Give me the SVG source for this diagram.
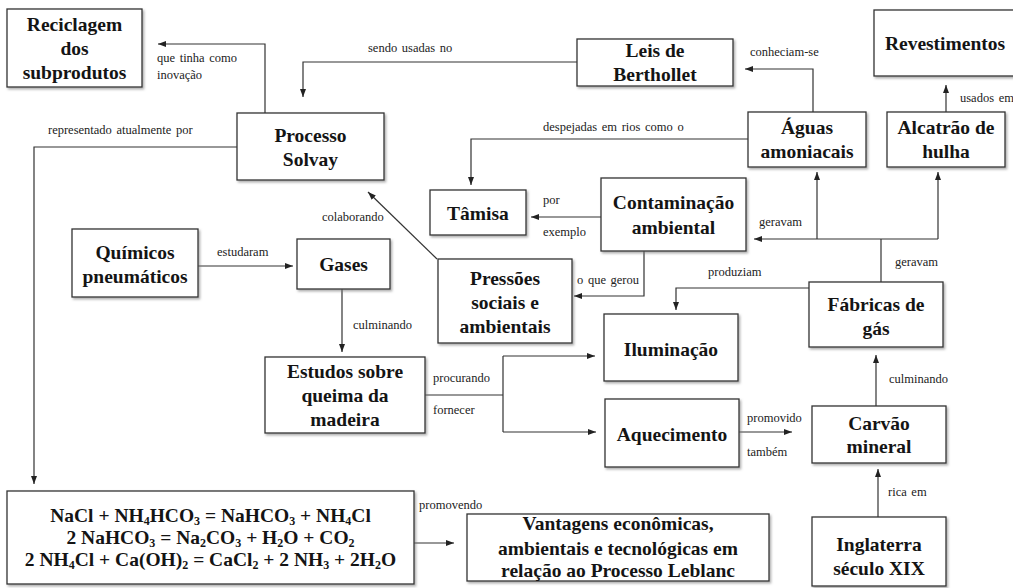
<svg xmlns="http://www.w3.org/2000/svg" width="1013" height="588" viewBox="0 0 1013 588" font-family="Liberation Serif, Times New Roman, serif">
<style>
.box{fill:#fff;stroke:#333;stroke-width:1.3;filter:url(#sh)}
.n{font-weight:bold;font-size:19.5px;fill:#141414;text-anchor:middle}
.l{font-size:12.5px;fill:#222;word-spacing:1.5px}
.c{fill:none;stroke:#333;stroke-width:1.2}
.a{marker-end:url(#ah)}
.s{font-size:12px}
</style>
<defs>
<filter id="sh" x="-5%" y="-5%" width="115%" height="120%">
<feDropShadow dx="1.5" dy="1.8" stdDeviation="1" flood-color="#777" flood-opacity="0.6"/>
</filter>
<marker id="ah" markerUnits="userSpaceOnUse" markerWidth="9" markerHeight="7" refX="8" refY="3" orient="auto">
<path d="M0,0 L8,3 L0,6 z" fill="#222"/>
</marker>
</defs>
<rect width="1013" height="588" fill="#fff"/>

<g id="connectors">
<path class="c a" d="M265,113 V44 H158"/>
<path class="c a" d="M577,62 H303 V97"/>
<path class="c a" d="M813,112 V69 H745"/>
<path class="c a" d="M946,112 V85"/>
<path class="c a" d="M748,139 H471 V185"/>
<path class="c a" d="M601,217 H531"/>
<path class="c a" d="M644,251 V296 H574"/>
<path class="c a" d="M437,259 L368,192"/>
<path class="c a" d="M198,266 H293"/>
<path class="c a" d="M342,289 V352"/>
<path class="c" d="M425,395 H503 M503,356 V432"/>
<path class="c a" d="M503,356 H595"/>
<path class="c a" d="M503,432 H596"/>
<path class="c a" d="M809,288 H676 V310"/>
<path class="c" d="M881,282 V239"/>
<path class="c a" d="M938,239 H754"/>
<path class="c a" d="M817,239 V172"/>
<path class="c a" d="M938,239 V172"/>
<path class="c a" d="M876,406 V355"/>
<path class="c a" d="M739,432 H792"/>
<path class="c a" d="M878,517 V469"/>
<path class="c a" d="M237,147 H34 V484"/>
<path class="c a" d="M414,543 H454"/>
</g>

<g id="labels">
<text class="l" x="157" y="62">que tinha como</text>
<text class="l" x="157" y="79">inovação</text>
<text class="l" x="48" y="134">representado atualmente por</text>
<text class="l" x="368" y="52">sendo usadas no</text>
<text class="l" x="750" y="56">conheciam-se</text>
<text class="l" x="960" y="102">usados em</text>
<text class="l" x="543" y="131">despejadas em rios como o</text>
<text class="l" x="543" y="204">por</text>
<text class="l" x="543" y="236">exemplo</text>
<text class="l" x="322" y="221">colaborando</text>
<text class="l" x="217" y="256">estudaram</text>
<text class="l" x="759" y="226">geravam</text>
<text class="l" x="895" y="266">geravam</text>
<text class="l" x="577" y="284">o que gerou</text>
<text class="l" x="708" y="276">produziam</text>
<text class="l" x="353" y="329">culminando</text>
<text class="l" x="889" y="383">culminando</text>
<text class="l" x="433" y="382">procurando</text>
<text class="l" x="433" y="414">fornecer</text>
<text class="l" x="747" y="422">promovido</text>
<text class="l" x="747" y="456">também</text>
<text class="l" x="419" y="509">promovendo</text>
<text class="l" x="888" y="496">rica em</text>
</g>

<g id="reciclagem"><rect class="box" x="7" y="9" width="135" height="78"/>
<text class="n" x="74.5" y="31">Reciclagem</text><text class="n" x="74.5" y="55">dos</text><text class="n" x="74.5" y="79">subprodutos</text></g>

<g id="processo-solvay"><rect class="box" x="237" y="113" width="147" height="67"/>
<text class="n" x="310.5" y="142">Processo</text><text class="n" x="310.5" y="166">Solvay</text></g>

<g id="leis-berthollet"><rect class="box" x="577" y="39" width="156" height="47"/>
<text class="n" x="655" y="57">Leis de</text><text class="n" x="655" y="81">Berthollet</text></g>

<g id="aguas-amoniacais"><rect class="box" x="748" y="112" width="118" height="55"/>
<text class="n" x="807" y="134">Águas</text><text class="n" x="807" y="158">amoniacais</text></g>

<g id="revestimentos"><rect class="box" x="874" y="10" width="145" height="66"/>
<text class="n" x="945" y="50">Revestimentos</text></g>

<g id="alcatrao"><rect class="box" x="887" y="112" width="118" height="55"/>
<text class="n" x="946" y="134">Alcatrão de</text><text class="n" x="946" y="158">hulha</text></g>

<g id="tamisa"><rect class="box" x="430" y="190" width="96" height="45"/>
<text class="n" x="478" y="220">Tâmisa</text></g>

<g id="contaminacao"><rect class="box" x="601" y="178" width="145" height="73"/>
<text class="n" x="673.5" y="209">Contaminação</text><text class="n" x="673.5" y="234">ambiental</text></g>

<g id="quimicos"><rect class="box" x="72" y="229" width="126" height="68"/>
<text class="n" x="135" y="259">Químicos</text><text class="n" x="135" y="283">pneumáticos</text></g>

<g id="gases"><rect class="box" x="297" y="239" width="93" height="50"/>
<text class="n" x="343.5" y="271">Gases</text></g>

<g id="pressoes"><rect class="box" x="438" y="259" width="134" height="84"/>
<text class="n" x="505" y="285">Pressões</text><text class="n" x="505" y="309">sociais e</text><text class="n" x="505" y="333">ambientais</text></g>

<g id="estudos"><rect class="box" x="265" y="357" width="160" height="76"/>
<text class="n" x="345" y="378">Estudos sobre</text><text class="n" x="345" y="402">queima da</text><text class="n" x="345" y="426">madeira</text></g>

<g id="iluminacao"><rect class="box" x="604" y="314" width="134" height="67"/>
<text class="n" x="671" y="356">Iluminação</text></g>

<g id="aquecimento"><rect class="box" x="605" y="399" width="134" height="68"/>
<text class="n" x="672" y="441">Aquecimento</text></g>

<g id="fabricas"><rect class="box" x="809" y="282" width="134" height="65"/>
<text class="n" x="876" y="311">Fábricas de</text><text class="n" x="876" y="335">gás</text></g>

<g id="carvao"><rect class="box" x="812" y="406" width="134" height="57"/>
<text class="n" x="879" y="430">Carvão</text><text class="n" x="879" y="453">mineral</text></g>

<g id="inglaterra"><rect class="box" x="812" y="517" width="134" height="69"/>
<text class="n" x="879" y="551">Inglaterra</text><text class="n" x="879" y="575">século XIX</text></g>

<g id="equacoes"><rect class="box" x="7" y="491" width="407" height="93"/>
<text class="n" x="210.5" y="522">NaCl + NH<tspan class="s" dy="3">4</tspan><tspan dy="-3">HCO</tspan><tspan class="s" dy="3">3</tspan><tspan dy="-3"> = NaHCO</tspan><tspan class="s" dy="3">3</tspan><tspan dy="-3"> + NH</tspan><tspan class="s" dy="3">4</tspan><tspan dy="-3">Cl</tspan></text>
<text class="n" x="210.5" y="544">2 NaHCO<tspan class="s" dy="3">3</tspan><tspan dy="-3"> = Na</tspan><tspan class="s" dy="3">2</tspan><tspan dy="-3">CO</tspan><tspan class="s" dy="3">3</tspan><tspan dy="-3"> + H</tspan><tspan class="s" dy="3">2</tspan><tspan dy="-3">O + CO</tspan><tspan class="s" dy="3">2</tspan></text>
<text class="n" x="210.5" y="566">2 NH<tspan class="s" dy="3">4</tspan><tspan dy="-3">Cl + Ca(OH)</tspan><tspan class="s" dy="3">2</tspan><tspan dy="-3"> = CaCl</tspan><tspan class="s" dy="3">2</tspan><tspan dy="-3"> + 2 NH</tspan><tspan class="s" dy="3">3</tspan><tspan dy="-3"> + 2H</tspan><tspan class="s" dy="3">2</tspan><tspan dy="-3">O</tspan></text></g>

<g id="vantagens"><rect class="box" x="467" y="514" width="302" height="67"/>
<text class="n" x="618" y="530">Vantagens econômicas,</text><text class="n" x="618" y="555">ambientais e tecnológicas em</text><text class="n" x="618" y="577">relação ao Processo Leblanc</text></g>
</svg>
